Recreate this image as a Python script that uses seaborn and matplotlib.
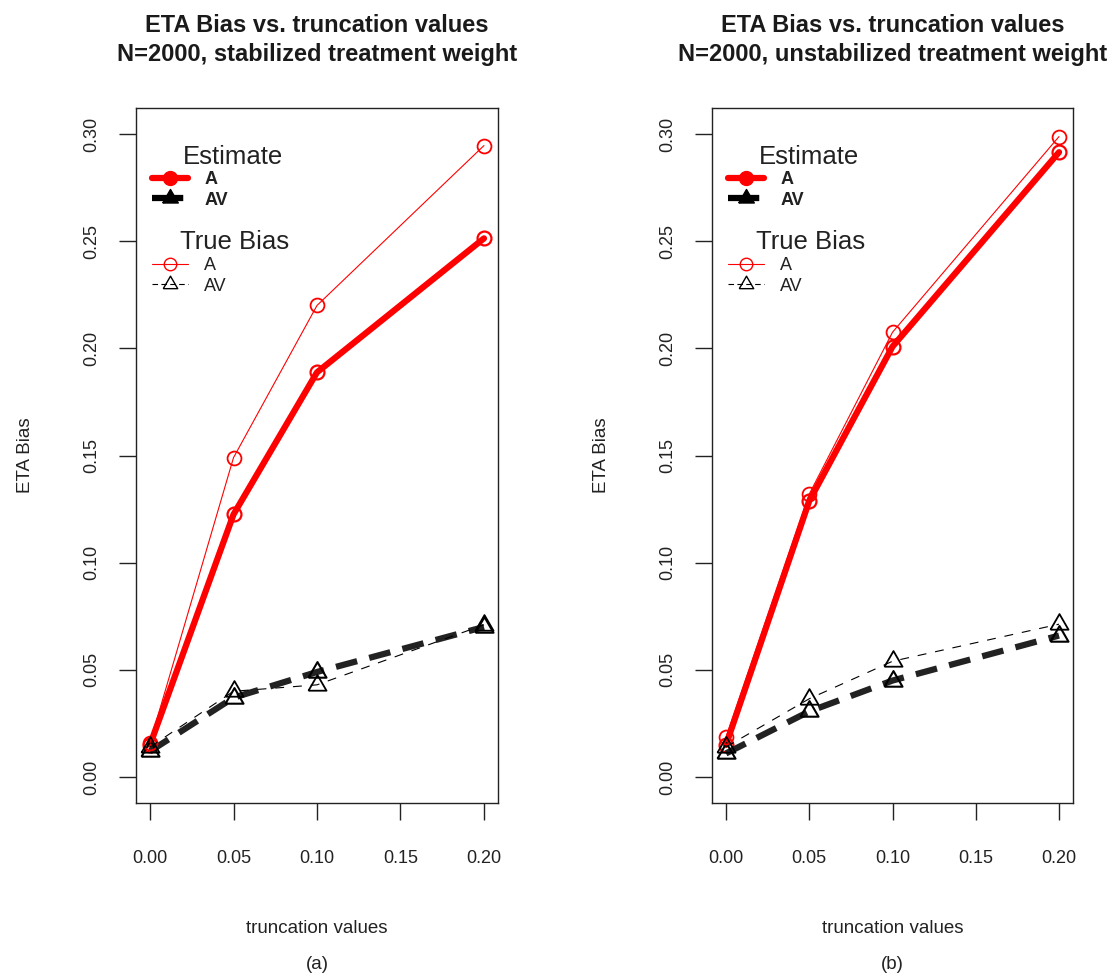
import numpy as np
import pandas as pd
import matplotlib
matplotlib.use("Agg")
import matplotlib.pyplot as plt
from matplotlib.lines import Line2D
import seaborn as sns

# ---------------- data ----------------
trunc = [0.00, 0.05, 0.10, 0.20]
x_ticks = [0.00, 0.05, 0.10, 0.15, 0.20]
y_ticks = [0.00, 0.05, 0.10, 0.15, 0.20, 0.25, 0.30]

est_A_stab = [0.015, 0.1225, 0.1888, 0.2513]
true_A_stab = [0.016, 0.149, 0.220, 0.2946]
est_AV_stab = [0.012, 0.037, 0.049, 0.070]
true_AV_stab = [0.014, 0.040, 0.043, 0.071]

est_A_unstab = [0.015, 0.1288, 0.2008, 0.2915]
true_A_unstab = [0.0185, 0.132, 0.2075, 0.2988]
est_AV_unstab = [0.011, 0.0306, 0.045, 0.066]
true_AV_unstab = [0.014, 0.0365, 0.054, 0.0713]

titles = ["ETA Bias vs. truncation values\nN=2000, stabilized treatment weight",
          "ETA Bias vs. truncation values\nN=2000, unstabilized treatment weight"]
panel_tags = ["(a)", "(b)"]
xlabel = "truncation values"
ylabel = "ETA Bias"
legend_titles = ["Estimate", "True Bias"]
legend_labels = ["A", "AV"]

# ---------------- style ----------------
sns.set_theme(style="ticks")
plt.rcParams['font.family'] = ['Liberation Sans', 'DejaVu Sans']
plt.rcParams['axes.edgecolor'] = '#222222'
plt.rcParams['text.color'] = '#222222'
plt.rcParams['axes.labelcolor'] = '#222222'
plt.rcParams['xtick.color'] = '#222222'
plt.rcParams['ytick.color'] = '#222222'

W, H = 1117, 976
fig = plt.figure(figsize=(W / 100, H / 100), dpi=100)
fig.patch.set_facecolor('white')

def px_rect(x0, y0, x1, y1):
    return [x0 / W, 1 - y1 / H, (x1 - x0) / W, (y1 - y0) / H]

axes = [fig.add_axes(px_rect(136, 108, 498, 803)),
        fig.add_axes(px_rect(712, 108, 1073, 803))]

tri = [(-1.0, -0.577), (1.0, -0.577), (0.0, 1.155), (-1.0, -0.577)]
THICK = 4.5
THIN = 0.8
dash_thick = (0, (3.5, 2.0))
dash_thin = (0, (8, 8))

series = [
    (est_A_stab, true_A_stab, est_AV_stab, true_AV_stab),
    (est_A_unstab, true_A_unstab, est_AV_unstab, true_AV_unstab),
]

for i, ax in enumerate(axes):
    eA, tA, eAV, tAV = series[i]
    sns.lineplot(x=trunc, y=eA, ax=ax, color='red', lw=THICK, marker='o',
                 markersize=10, markerfacecolor='none', markeredgecolor='red',
                 markeredgewidth=1.6, zorder=3)
    sns.lineplot(x=trunc, y=eAV, ax=ax, color='#222222', lw=THICK, linestyle=dash_thick,
                 marker=tri, markersize=15, markerfacecolor='none', markeredgecolor='black',
                 markeredgewidth=1.5, zorder=3)
    sns.lineplot(x=trunc, y=tA, ax=ax, color='red', lw=THIN, marker='o',
                 markersize=10, markerfacecolor='none', markeredgecolor='red',
                 markeredgewidth=1.3, zorder=4)
    sns.lineplot(x=trunc, y=tAV, ax=ax, color='black', lw=THIN, linestyle=dash_thin,
                 marker=tri, markersize=15, markerfacecolor='none', markeredgecolor='black',
                 markeredgewidth=1.3, zorder=4)

    ax.set_xlim(-0.0084, 0.2084)
    ax.set_ylim(-0.01213, 0.31213)
    ax.set_xticks(x_ticks)
    ax.set_xticklabels([f"{v:.2f}" for v in x_ticks])
    ax.set_yticks(y_ticks)
    ax.set_yticklabels([f"{v:.2f}" for v in y_ticks], rotation=90, va='center')
    ax.tick_params(axis='both', length=12, width=1.0, labelsize=13)
    ax.tick_params(axis='x', pad=22)
    ax.tick_params(axis='y', pad=14)
    for sp in ax.spines.values():
        sp.set_visible(True)
        sp.set_linewidth(1.0)
    ax.grid(False)
    ax.set_facecolor('white')

    ax.set_title(titles[i], fontsize=17, fontweight='bold', pad=34, color='#1a1a1a',
                 linespacing=1.33)
    ax.set_xlabel(xlabel, fontsize=13.5, labelpad=38)
    ax.set_ylabel(ylabel, fontsize=13.5, labelpad=35)
    ax.text(0.5, -0.232, panel_tags[i], transform=ax.transAxes, ha='center',
            va='center', fontsize=13.5)

    # legend: Estimate
    h_est = [
        Line2D([], [], color='red', lw=THICK, marker='o', markersize=10,
               markerfacecolor='red', markeredgecolor='red'),
        Line2D([], [], color='black', lw=THICK, linestyle=(0, (5, 2)), marker=tri,
               markersize=13, markerfacecolor='black', markeredgecolor='black'),
    ]
    h_true = [
        Line2D([], [], color='red', lw=THIN, marker='o', markersize=9,
               markerfacecolor='none', markeredgecolor='red', markeredgewidth=1.0),
        Line2D([], [], color='black', lw=THIN, linestyle=(0, (5, 3)), marker=tri,
               markersize=12, markerfacecolor='none', markeredgecolor='black',
               markeredgewidth=1.0),
    ]
    x_off = 0 if i == 0 else 576
    leg1 = ax.legend(h_est, legend_labels, loc='upper left', frameon=False,
                     bbox_to_anchor=((152 + x_off) / W, 1 - 171 / H),
                     bbox_transform=fig.transFigure, numpoints=1,
                     prop={'weight': 'bold', 'size': 13}, handlelength=2.0,
                     handletextpad=0.9, labelspacing=0.2, borderpad=0, borderaxespad=0)
    ax.add_artist(leg1)
    leg2 = ax.legend(h_true, legend_labels, loc='upper left', frameon=False,
                     bbox_to_anchor=((152 + x_off) / W, 1 - 257 / H),
                     bbox_transform=fig.transFigure, numpoints=1,
                     prop={'size': 13}, handlelength=2.0,
                     handletextpad=0.9, labelspacing=0.2, borderpad=0, borderaxespad=0)
    fig.text((233 + x_off) / W, 1 - 157 / H, legend_titles[0], ha='center', va='center',
             fontsize=18.5)
    fig.text((235 + x_off) / W, 1 - 242 / H, legend_titles[1], ha='center', va='center',
             fontsize=18.5)

fig.savefig("out.png", dpi=100, facecolor='white')
